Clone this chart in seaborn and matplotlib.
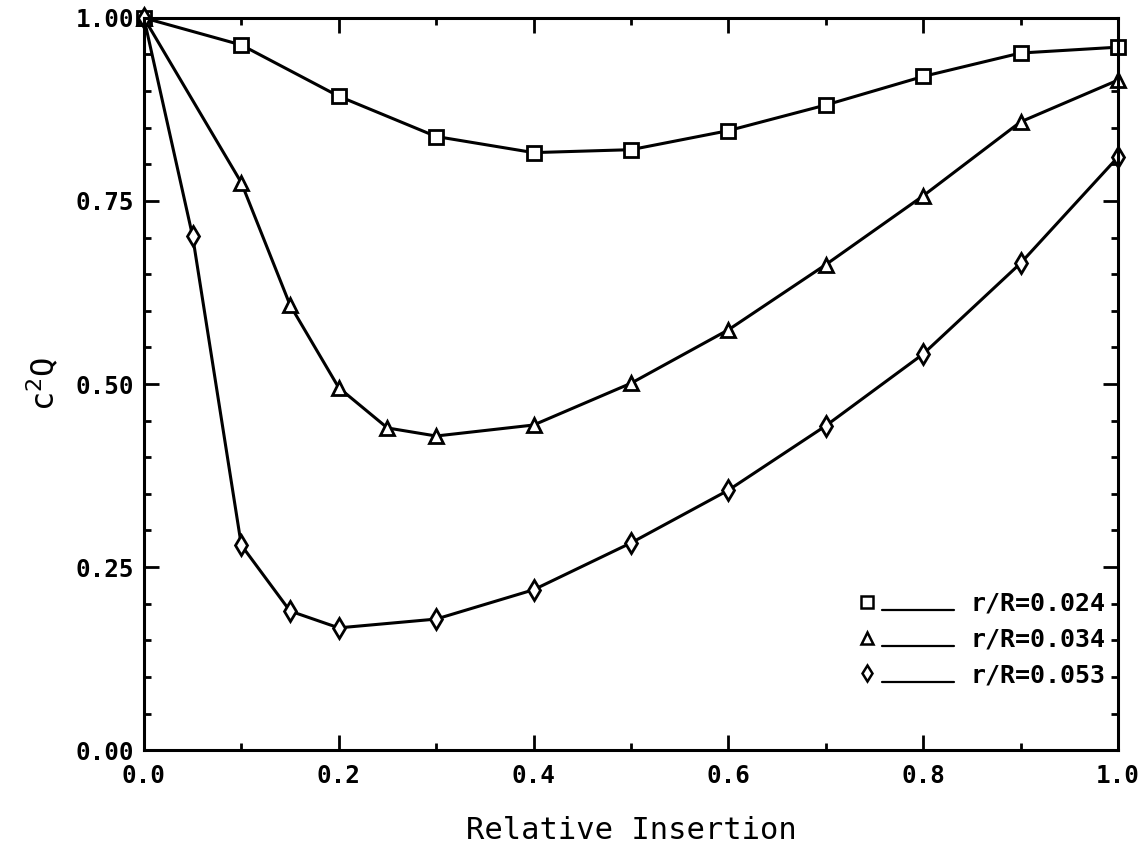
import numpy as np
import pandas as pd
import matplotlib
matplotlib.use("Agg")
import matplotlib.pyplot as plt
import seaborn as sns
from matplotlib.lines import Line2D
from matplotlib.legend_handler import HandlerBase
from matplotlib.ticker import MultipleLocator, FormatStrFormatter

# ---- data ----
x_024 = [0.0, 0.1, 0.2, 0.3, 0.4, 0.5, 0.6, 0.7, 0.8, 0.9, 1.0]
y_024 = [1.00, 0.963, 0.893, 0.838, 0.816, 0.820, 0.846, 0.881, 0.920, 0.952, 0.960]

x_034 = [0.0, 0.1, 0.15, 0.2, 0.25, 0.3, 0.4, 0.5, 0.6, 0.7, 0.8, 0.9, 1.0]
y_034 = [1.00, 0.775, 0.608, 0.495, 0.440, 0.429, 0.444, 0.501, 0.574, 0.663, 0.757, 0.858, 0.915]

x_053 = [0.0, 0.05, 0.1, 0.15, 0.2, 0.3, 0.4, 0.5, 0.6, 0.7, 0.8, 0.9, 1.0]
y_053 = [1.00, 0.702, 0.280, 0.190, 0.167, 0.179, 0.219, 0.283, 0.355, 0.443, 0.541, 0.665, 0.810]

series_labels = ["r/R=0.024", "r/R=0.034", "r/R=0.053"]
series_markers = ["s", "^", "d"]

df = pd.concat([
    pd.DataFrame({"x": x_024, "y": y_024, "series": series_labels[0]}),
    pd.DataFrame({"x": x_034, "y": y_034, "series": series_labels[1]}),
    pd.DataFrame({"x": x_053, "y": y_053, "series": series_labels[2]}),
], ignore_index=True)

sns.set_theme(style="ticks")
plt.rcParams["font.family"] = ["DejaVu Sans Mono", "DejaVu Sans"]
plt.rcParams["mathtext.fontset"] = "dejavusans"

fig = plt.figure(figsize=(11.42, 8.51), dpi=100)
ax = fig.add_axes([0.126, 0.1185, 0.853, 0.8605])

sns.lineplot(data=df, x="x", y="y", style="series", markers=dict(zip(series_labels, series_markers)),
             dashes=False, color="black", linewidth=2.2, markersize=10,
             markerfacecolor="white", markeredgecolor="black", markeredgewidth=2.0,
             clip_on=False, ax=ax, legend=False, estimator=None, sort=False)

ax.set_xlim(0, 1)
ax.set_ylim(0, 1)
ax.xaxis.set_major_locator(MultipleLocator(0.2))
ax.xaxis.set_minor_locator(MultipleLocator(0.1))
ax.yaxis.set_major_locator(MultipleLocator(0.25))
ax.yaxis.set_minor_locator(MultipleLocator(0.05))
ax.xaxis.set_major_formatter(FormatStrFormatter("%.1f"))
ax.yaxis.set_major_formatter(FormatStrFormatter("%.2f"))
ax.tick_params(which="both", direction="in", top=True, right=True, width=2, color="black",
               labelcolor="black")
ax.tick_params(which="major", length=11, labelsize=17.5)
ax.tick_params(which="minor", length=5)
ax.tick_params(axis="x", which="major", pad=10)
ax.tick_params(axis="y", which="major", pad=7)
for lab in ax.get_xticklabels() + ax.get_yticklabels():
    lab.set_fontweight("bold")
for sp in ax.spines.values():
    sp.set_linewidth(2.2)
    sp.set_color("black")

ax.set_xlabel("Relative Insertion", fontsize=22, labelpad=20, color="black")
ax.set_ylabel(r"c$^{2}$Q", fontsize=23, labelpad=10, color="black")


class LeftMarkerHandler(HandlerBase):
    def create_artists(self, legend, orig_handle, xdescent, ydescent, width, height,
                       fontsize, trans):
        ymid = height / 2 - ydescent
        ybase = -ydescent + 0.02 * height
        line = Line2D([-xdescent + 0.24 * width, -xdescent + width], [ybase, ybase],
                      color="black", linewidth=1.6)
        mark = Line2D([-xdescent + 0.08 * width], [ymid], linestyle="none",
                      marker=orig_handle.get_marker(), markersize=8,
                      markerfacecolor="white", markeredgecolor="black", markeredgewidth=1.8)
        line.set_transform(trans)
        mark.set_transform(trans)
        return [line, mark]


handles = [Line2D([0], [0], color="black", marker=m) for m in series_markers]
leg = ax.legend(handles, series_labels, loc="lower right", bbox_to_anchor=(0.987, 0.086),
                frameon=False, fontsize=18, handlelength=3.8, handletextpad=0.64,
                labelspacing=0.47, borderaxespad=0, borderpad=0,
                handler_map={Line2D: LeftMarkerHandler()})
for t in leg.get_texts():
    t.set_fontweight("bold")
    t.set_color("black")

fig.savefig("out.png", dpi=100)
